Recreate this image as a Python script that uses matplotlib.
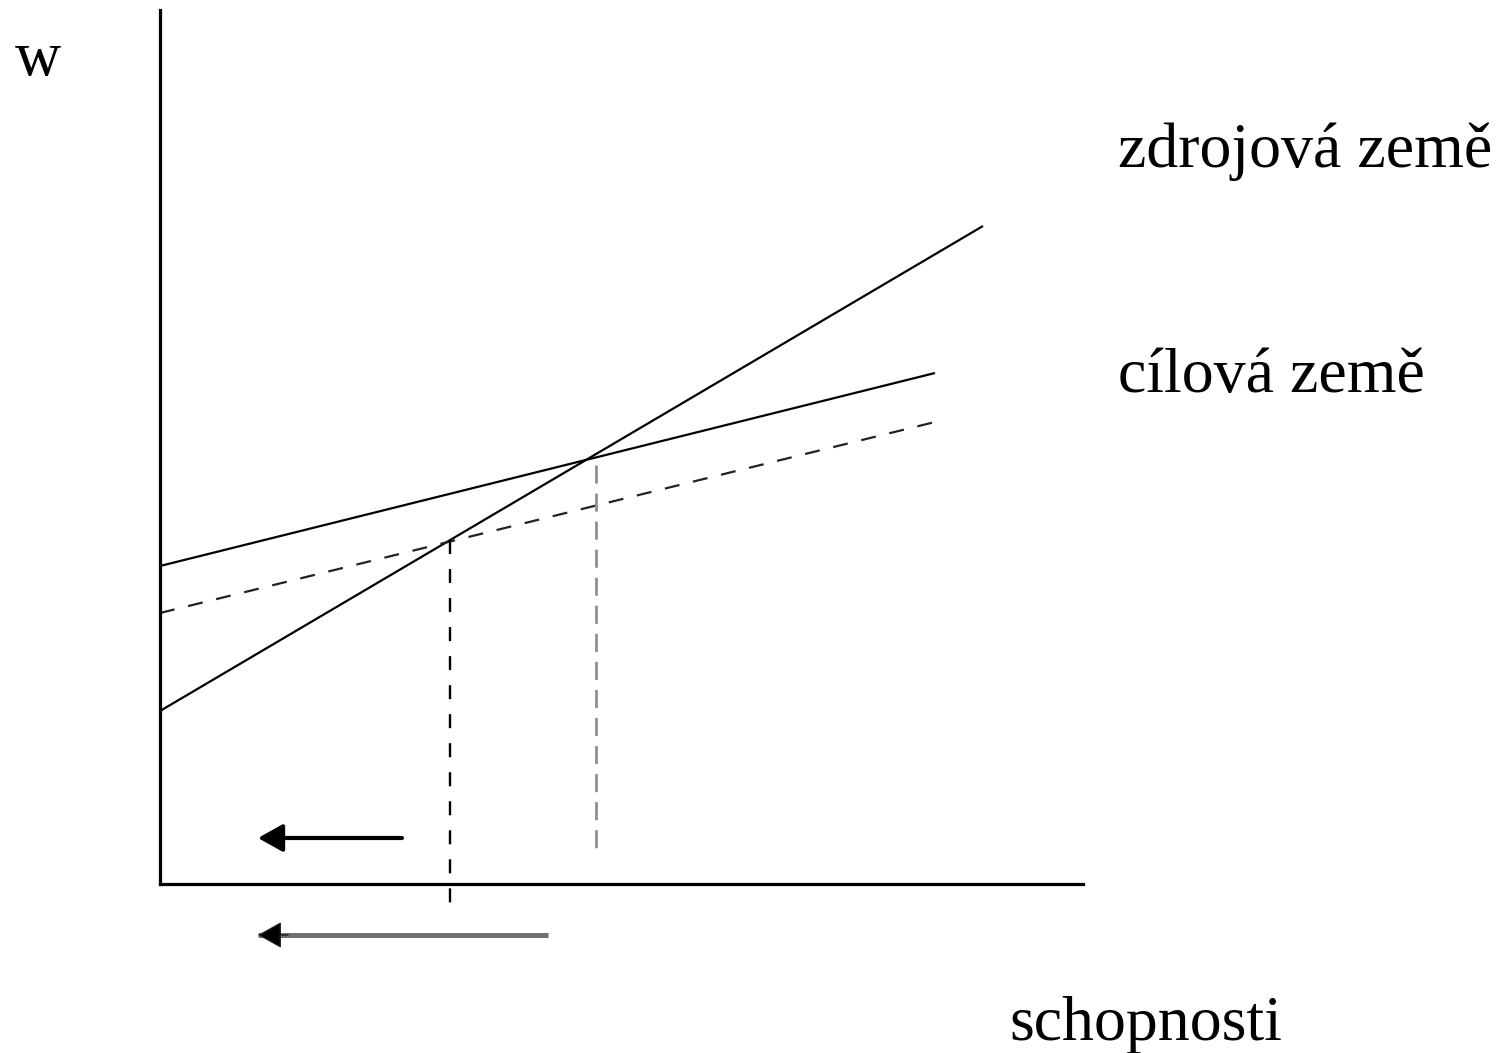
import matplotlib
matplotlib.use("Agg")
import matplotlib.pyplot as plt
import numpy as np

plt.rcParams['font.family'] = ['Liberation Serif', 'DejaVu Serif']
plt.rcParams['lines.scale_dashes'] = False

# ---- data (schematic units: ability on x, wage on y) ----
zdroj_x = [0.0, 8.23]          # source country wage schedule
zdroj_w = [1.73, 6.58]
cil_x = [0.0, 7.75]            # destination country wage schedule
cil_w = [3.18, 5.11]
cil_new_x = [0.0, 7.75]        # shifted destination schedule (dashed)
cil_new_w = [2.71, 4.62]
threshold_new = 2.90           # new ability threshold (black dashed)
threshold_old = 4.36           # old ability threshold (grey dashed)
threshold_new_range = [3.44, -0.23]
threshold_old_range = [4.19, 0.34]
arrow_short = [2.42, 0.98]     # black arrow x from -> to
arrow_short_y = 0.46
arrow_long = [3.88, 0.98]      # grey arrow x from -> to
arrow_long_y = -0.51

label_w = "w"
label_x = "schopnosti"
label_zdroj = "zdrojová země"
label_cil = "cílová země"

W, H = 1504, 1053
fig = plt.figure(figsize=(W / 100, H / 100), dpi=100)
ax = fig.add_axes([160 / W, (H - 884) / H, (1083 - 160) / W, (884 - 10) / H])
ax.set_xlim(0, 9.23)
ax.set_ylim(0, 8.74)
for s in ['top', 'right']:
    ax.spines[s].set_visible(False)
for s in ['left', 'bottom']:
    ax.spines[s].set_linewidth(2.3)
    ax.spines[s].set_color('black')
ax.set_xticks([])
ax.set_yticks([])

lw = 1.6
ax.plot(zdroj_x, zdroj_w, color='black', lw=lw, solid_capstyle='butt', clip_on=False)
ax.plot(cil_x, cil_w, color='black', lw=lw, solid_capstyle='butt', clip_on=False)
ax.plot(cil_new_x, cil_new_w, color='#222222', lw=lw, dashes=(10.8, 10.0),
        clip_on=False)

ax.plot([threshold_new, threshold_new], threshold_new_range, color='black',
        lw=1.7, dashes=(10.1, 10.8), clip_on=False)
ax.plot([threshold_old, threshold_old], threshold_old_range, color='#8a8a8a',
        lw=1.9, dashes=(13.0, 7.2), clip_on=False)

head = '-|>,head_length=0.75,head_width=0.42'
ax.annotate('', xy=(arrow_short[1], arrow_short_y), xytext=(arrow_short[0], arrow_short_y),
            arrowprops=dict(arrowstyle=head, mutation_scale=20, lw=3.0,
                            ec='black', fc='black', shrinkA=0, shrinkB=0),
            annotation_clip=False)
# grey shaft with black head
ax.plot(arrow_long, [arrow_long_y, arrow_long_y], color='#707070', lw=3.6,
        solid_capstyle='butt', clip_on=False)
ax.annotate('', xy=(arrow_long[1], arrow_long_y), xytext=(arrow_long[1] + 0.3, arrow_long_y),
            arrowprops=dict(arrowstyle=head, mutation_scale=20, lw=1.0,
                            ec='#202020', fc='black', shrinkA=0, shrinkB=0),
            annotation_clip=False)

fs = 46
ax.text(-1.45, 8.09, label_w, fontsize=fs, ha='left', va='baseline', clip_on=False)
ax.text(9.58, 7.17, label_zdroj, fontsize=fs, ha='left', va='baseline', clip_on=False)
ax.text(9.58, 4.92, label_cil, fontsize=fs, ha='left', va='baseline', clip_on=False)
ax.text(8.49, -1.56, label_x, fontsize=fs, ha='left', va='baseline', clip_on=False)

fig.savefig('out.png', dpi=100, facecolor='white')
